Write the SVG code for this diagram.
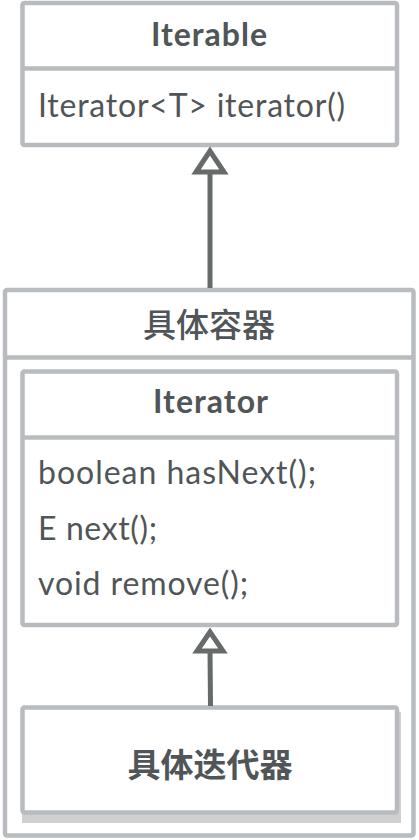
<svg xmlns="http://www.w3.org/2000/svg" width="419" height="840" viewBox="0 0 419 840">
<style>
.box{fill:#ffffff;stroke:#b8bcbe;stroke-width:4.5}
.div{stroke:#b8bcbe;stroke-width:4.5}
.t{font-family:Lato,"Noto Sans","Liberation Sans",sans-serif;fill:#505557;font-size:32px}
.b{font-weight:700;text-anchor:middle}
.cjk{font-family:"Noto Sans CJK SC","Noto Sans",sans-serif;fill:#505557;font-size:33px;text-anchor:middle;dominant-baseline:central}
.edge{stroke:#666a6b;stroke-width:5;fill:none}
.head{stroke:#666a6b;stroke-width:5;fill:#ffffff;stroke-linejoin:miter}
</style>
<rect width="419" height="840" fill="#ffffff"/>
<g id="iterable">
<rect class="box" x="22.5" y="3" width="374.5" height="142" rx="2"/>
<line class="div" x1="22.5" y1="68.5" x2="397" y2="68.5"/>
<text class="t b" x="209" y="46" textLength="116">Iterable</text>
<text class="t" x="38" y="117" textLength="307">Iterator&lt;T&gt; iterator()</text>
</g>
<g id="container">
<rect class="box" x="5" y="290" width="408.5" height="545.5" rx="2"/>
<line class="div" x1="5" y1="357.5" x2="413.5" y2="357.5"/>
<text class="cjk" x="209" y="322.5" font-weight="500">具体容器</text>
</g>
<g id="iterator">
<rect class="box" x="22.5" y="371.5" width="374.5" height="253.5" rx="2"/>
<line class="div" x1="22.5" y1="437.5" x2="397" y2="437.5"/>
<text class="t b" x="210.5" y="413" textLength="115">Iterator</text>
<text class="t" x="38" y="484" textLength="278">boolean hasNext();</text>
<text class="t" x="38" y="540" textLength="119">E next();</text>
<text class="t" x="38" y="595" textLength="210">void remove();</text>
</g>
<g id="concrete-iterator">
<rect x="22" y="712" width="379" height="111" fill="#cfd0d0"/>
<rect class="box" x="22.5" y="707.5" width="374.5" height="105" rx="2"/>
<text class="cjk" x="210" y="762.5" font-weight="700">具体迭代器</text>
</g>
<g id="connectors">
<line class="edge" x1="210" y1="172" x2="210" y2="288"/>
<polygon class="head" points="210,151 196,172 224,172"/>
<line class="edge" x1="210" y1="651" x2="210.5" y2="706"/>
<polygon class="head" points="210,632 197,651 223,651"/>
</g>
</svg>
